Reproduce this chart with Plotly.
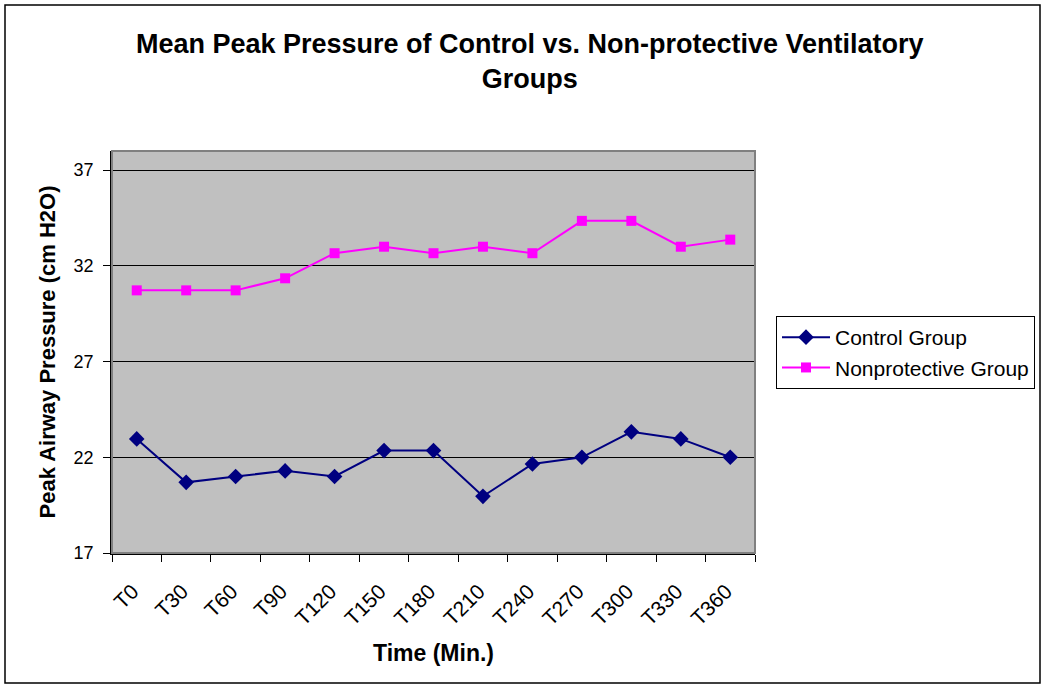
import plotly.graph_objects as go

times = ["T0", "T30", "T60", "T90", "T120", "T150", "T180", "T210",
         "T240", "T270", "T300", "T330", "T360"]
control = [22.96, 20.69, 21.0, 21.29, 21.0, 22.35, 22.35, 19.96,
           21.65, 22.0, 23.33, 22.96, 22.0]
nonprotective = [30.72, 30.72, 30.72, 31.35, 32.66, 33.0, 32.66, 33.0,
                 32.66, 34.35, 34.35, 33.0, 33.37]

W, H = 1047, 688
L, R, T, B = 112, 292, 151, 135
pw, ph = W - L - R, H - T - B

fig = go.Figure()
fig.add_trace(go.Scatter(
    x=times, y=control, name="Control Group", mode="lines+markers",
    line=dict(color="#000080", width=2),
    marker=dict(symbol="diamond", size=12, color="#000080"),
))
fig.add_trace(go.Scatter(
    x=times, y=nonprotective, name="Nonprotective Group", mode="lines+markers",
    line=dict(color="#FF00FF", width=2),
    marker=dict(symbol="square", size=10, color="#FF00FF"),
))

# outer chart border
fig.add_shape(type="rect", xref="paper", yref="paper",
              x0=(5 - L) / pw, x1=(1040 - L) / pw,
              y0=(H - B - 683) / ph, y1=(H - B - 5) / ph,
              line=dict(color="black", width=1.5), layer="below")
# plot area border
fig.add_shape(type="rect", xref="paper", yref="paper", x0=0, x1=1, y0=0, y1=1,
              line=dict(color="#808080", width=2))

fig.update_layout(
    width=W, height=H,
    margin=dict(l=L, r=R, t=T, b=B),
    paper_bgcolor="white",
    plot_bgcolor="#C0C0C0",
    font=dict(family="Liberation Sans, Arial", color="black", size=18),
    title=dict(
        text="<b>Mean Peak Pressure of Control vs. Non-protective Ventilatory<br>Groups</b>",
        x=0.506, xanchor="center", y=0.923, yanchor="top",
        font=dict(size=27),
    ),
    xaxis=dict(
        title=dict(text="<b>Time (Min.)</b>", font=dict(size=23), standoff=16),
        type="category", range=[-0.5, 12.5],
        tickangle=-45, tickson="boundaries",
        ticks="outside", ticklen=7, tickcolor="black",
        ticklabelstandoff=12, ticksuffix=" ",
        showline=True, linecolor="black", linewidth=1.5,
        showgrid=False, tickfont=dict(size=21),
    ),
    yaxis=dict(
        title=dict(text="<b>Peak Airway Pressure (cm H2O)</b>", font=dict(size=22), standoff=12),
        range=[17, 38], tick0=17, dtick=5,
        ticks="outside", ticklen=7, tickcolor="black",
        ticklabelstandoff=6,
        showline=True, linecolor="black", linewidth=1.5,
        showgrid=True, gridcolor="black", gridwidth=1,
        zeroline=False, tickfont=dict(size=18),
    ),
    legend=dict(
        x=(776 - L) / pw, xanchor="left",
        y=(H - B - 316) / ph, yanchor="top",
        bordercolor="black", borderwidth=1, bgcolor="white",
        font=dict(size=21), itemwidth=48,
        tracegroupgap=2,
    ),
    showlegend=True,
)

fig.write_html("out.html", config={"displayModeBar": False},
               post_script="document.body.style.margin='0';")
